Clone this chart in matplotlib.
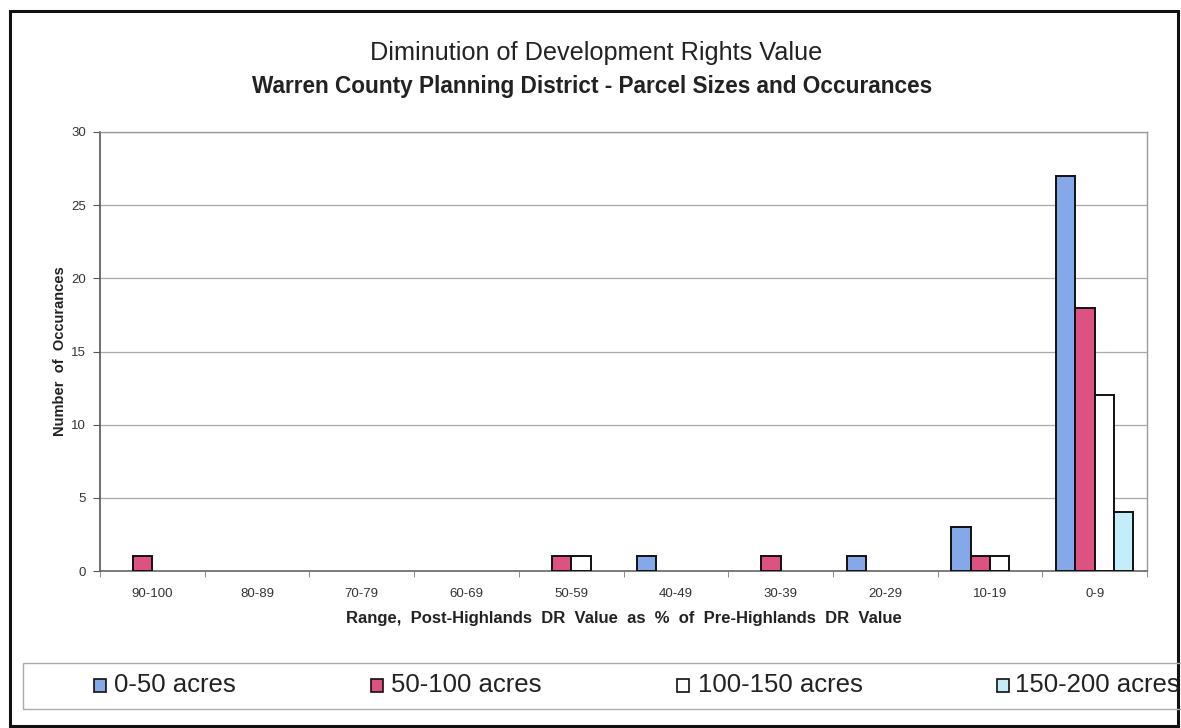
import matplotlib
matplotlib.use("Agg")
import matplotlib.pyplot as plt
import numpy as np
from matplotlib.patches import Rectangle

plt.rcParams['font.family'] = ['Liberation Sans', 'DejaVu Sans']

categories = ["90-100", "80-89", "70-79", "60-69", "50-59", "40-49", "30-39", "20-29", "10-19", "0-9"]
acres_0_50 = [0, 0, 0, 0, 0, 1, 0, 1, 3, 27]
acres_50_100 = [1, 0, 0, 0, 1, 0, 1, 0, 1, 18]
acres_100_150 = [0, 0, 0, 0, 1, 0, 0, 0, 1, 12]
acres_150_200 = [0, 0, 0, 0, 0, 0, 0, 0, 0, 4]
series_names = ["0-50 acres", "50-100 acres", "100-150 acres", "150-200 acres"]
series_values = [acres_0_50, acres_50_100, acres_100_150, acres_150_200]
colors = ["#84A8E8", "#DE5282", "#FFFFFF", "#C3EEF9"]
yticks = [0, 5, 10, 15, 20, 25, 30]

W, H = 1181, 728
fig = plt.figure(figsize=(W / 100, H / 100), dpi=100)
ax = fig.add_axes([100 / W, 1 - 571 / H, (1147 - 100) / W, (571 - 132) / H])

x = np.arange(len(categories))
bw = 0.185
for i, (name, vals, c) in enumerate(zip(series_names, series_values, colors)):
    lws = [1.4 if v > 0 else 0 for v in vals]
    ax.bar(x + (i - 1.5) * bw, vals, width=bw, color=c, edgecolor="#111111",
           linewidth=lws, label=name, zorder=3)

ax.set_xlim(-0.5, len(categories) - 0.5)
ax.set_ylim(0, 30)
ax.set_yticks(yticks)
ax.set_yticklabels([str(t) for t in yticks], fontsize=9.5, color="#333333")
ax.set_xticks(x)
ax.set_xticklabels(categories, fontsize=9.5, color="#333333")
ax.tick_params(axis='x', length=0, pad=12)
ax.set_xticks(np.arange(-0.5, len(categories), 1.0), minor=True)
ax.tick_params(axis='x', which='minor', length=4, color="#777777", direction='out')
ax.tick_params(axis='y', length=5, color="#555555", direction='out', pad=5)
ax.yaxis.grid(True, color="#a8a8a8", linewidth=0.9, zorder=0)
ax.set_axisbelow(True)
for s in ["top", "right"]:
    ax.spines[s].set_color("#9a9a9a")
    ax.spines[s].set_linewidth(1.0)
ax.spines["left"].set_color("#555555")
ax.spines["left"].set_linewidth(1.2)
ax.spines["bottom"].set_color("#666666")
ax.spines["bottom"].set_linewidth(1.2)

ax.set_ylabel("Number  of  Occurances", fontsize=10.5, fontweight='bold', color="#222222", labelpad=3)
ax.set_xlabel("Range,  Post-Highlands  DR  Value  as  %  of  Pre-Highlands  DR  Value",
              fontsize=12, fontweight='bold', color="#222222", labelpad=8)

fig.text(596 / W, 1 - 53 / H, "Diminution of Development Rights Value", ha='center', va='center',
         fontsize=18.2, color="#222222")
fig.text(592 / W, 1 - 86 / H, "Warren County Planning District - Parcel Sizes and Occurances",
         ha='center', va='center', fontsize=16.3, fontweight='bold', color="#222222")

# outer border
fig.add_artist(Rectangle((10 / W, 1 - 726 / H), (1178 - 10) / W, (726 - 11) / H,
                         transform=fig.transFigure, fill=False, edgecolor="#111111", linewidth=2.2))
# legend box
fig.add_artist(Rectangle((23 / W, 1 - 709 / H), (1200 - 23) / W, (709 - 663) / H,
                         transform=fig.transFigure, fill=False, edgecolor="#aaaaaa", linewidth=1.0))
marker_x = [100, 377, 683, 1003]
text_x = [114, 391, 698, 1015]
ly = 1 - 685 / H
for mx, tx, name, c in zip(marker_x, text_x, series_names, colors):
    fig.add_artist(Rectangle(((mx - 6) / W, ly - 6.5 / H), 12 / W, 13 / H, transform=fig.transFigure,
                             facecolor=c, edgecolor="#111111", linewidth=1.2))
    fig.text(tx / W, ly, name, ha='left', va='center', fontsize=18.5, color="#222222")

fig.savefig("out.png", dpi=100)
